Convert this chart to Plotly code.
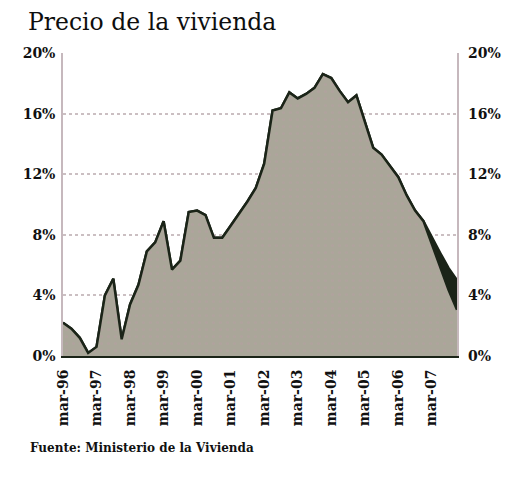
import plotly.graph_objects as go

# trimestres, de mar-96 a dic-07
anios = ['96', '97', '98', '99', '00', '01', '02', '03', '04', '05', '06', '07']
meses = ['mar', 'jun', 'sep', 'dic']
trimestres = [m + '-' + a for a in anios for m in meses]

# variacion interanual del precio de la vivienda (%)
precio = [2.2, 1.8, 1.2, 0.2, 0.6, 4.0, 5.1, 1.1,
          3.4, 4.7, 6.9, 7.5, 8.9, 5.7, 6.3, 9.5,
          9.6, 9.3, 7.8, 7.8, 8.6, 9.4, 10.2, 11.1,
          12.7, 16.2, 16.35, 17.4, 17.0, 17.3, 17.7, 18.6,
          18.35, 17.5, 16.75, 17.2, 15.5, 13.75, 13.3, 12.55,
          11.8, 10.6, 9.6, 8.9, 7.4, 5.9, 4.35, 3.05]

# la serie oscura solo se separa en los ultimos trimestres
precio_oscuro = precio[:44] + [7.8, 6.8, 5.8, 5.0]

ticks_y = [0, 4, 8, 12, 16, 20]
etiquetas_x = ['mar-' + a for a in anios]

oscuro = '#1b2418'
gris = '#aaa699'
fuente = 'DejaVu Serif'

fig = go.Figure()

fig.add_trace(go.Scatter(x=trimestres, y=precio_oscuro, mode='lines', fill='tozeroy',
                         fillcolor=oscuro, line=dict(color=oscuro, width=2.5),
                         hoverinfo='skip', showlegend=False))
fig.add_trace(go.Scatter(x=trimestres, y=precio, mode='lines', fill='tozeroy',
                         fillcolor=gris,
                         fillpattern=dict(shape='.', bgcolor=gris, fgcolor='#b69ea2',
                                          size=7, solidity=0.15),
                         line=dict(color=oscuro, width=2.5), showlegend=False))
# copia invisible para el eje derecho
fig.add_trace(go.Scatter(x=trimestres, y=precio, yaxis='y2', mode='lines',
                         line=dict(width=0), opacity=0, hoverinfo='skip', showlegend=False))

fig.update_layout(
    width=526, height=480,
    margin=dict(l=55, r=77, t=45, b=132),
    paper_bgcolor='white', plot_bgcolor='white',
    font=dict(family=fuente, size=14, color='#111'),
    title=dict(text='Precio de la vivienda', x=0.038, xanchor='left', xref='container',
               y=0.988, yanchor='top', yref='container',
               font=dict(family=fuente, size=23.5, color='#0e0e0e')),
    xaxis=dict(type='category', range=[0, len(trimestres) - 1],
               tickvals=etiquetas_x, ticktext=['<b>' + t + '</b>' for t in etiquetas_x],
               tickangle=-90,
               showgrid=False, showline=True, linecolor=oscuro, linewidth=2,
               ticks='', ticklabelstandoff=6, zeroline=False),
    yaxis=dict(range=[0, 20], tickvals=ticks_y,
               ticktext=['<b>' + str(v) + '%</b>' for v in ticks_y],
               showgrid=True, gridcolor='#cbbfc2', gridwidth=1.5, griddash='dot',
               showline=True, mirror=True, linecolor='#c6b8bd', linewidth=1.5,
               ticks='', ticklabelstandoff=3, zeroline=False),
    yaxis2=dict(range=[0, 20], tickvals=ticks_y,
                ticktext=['<b>' + str(v) + '%</b>' for v in ticks_y],
                overlaying='y', side='right', showgrid=False, showline=False,
                ticks='', ticklabelstandoff=10, zeroline=False),
)

fig.add_annotation(text='<b>Fuente: Ministerio de la Vivienda</b>', xref='paper', yref='paper',
                   x=-0.089, y=-0.304, xanchor='left', yanchor='middle', showarrow=False,
                   font=dict(family=fuente, size=12, color='#111'))

fig.write_html('out.html')
